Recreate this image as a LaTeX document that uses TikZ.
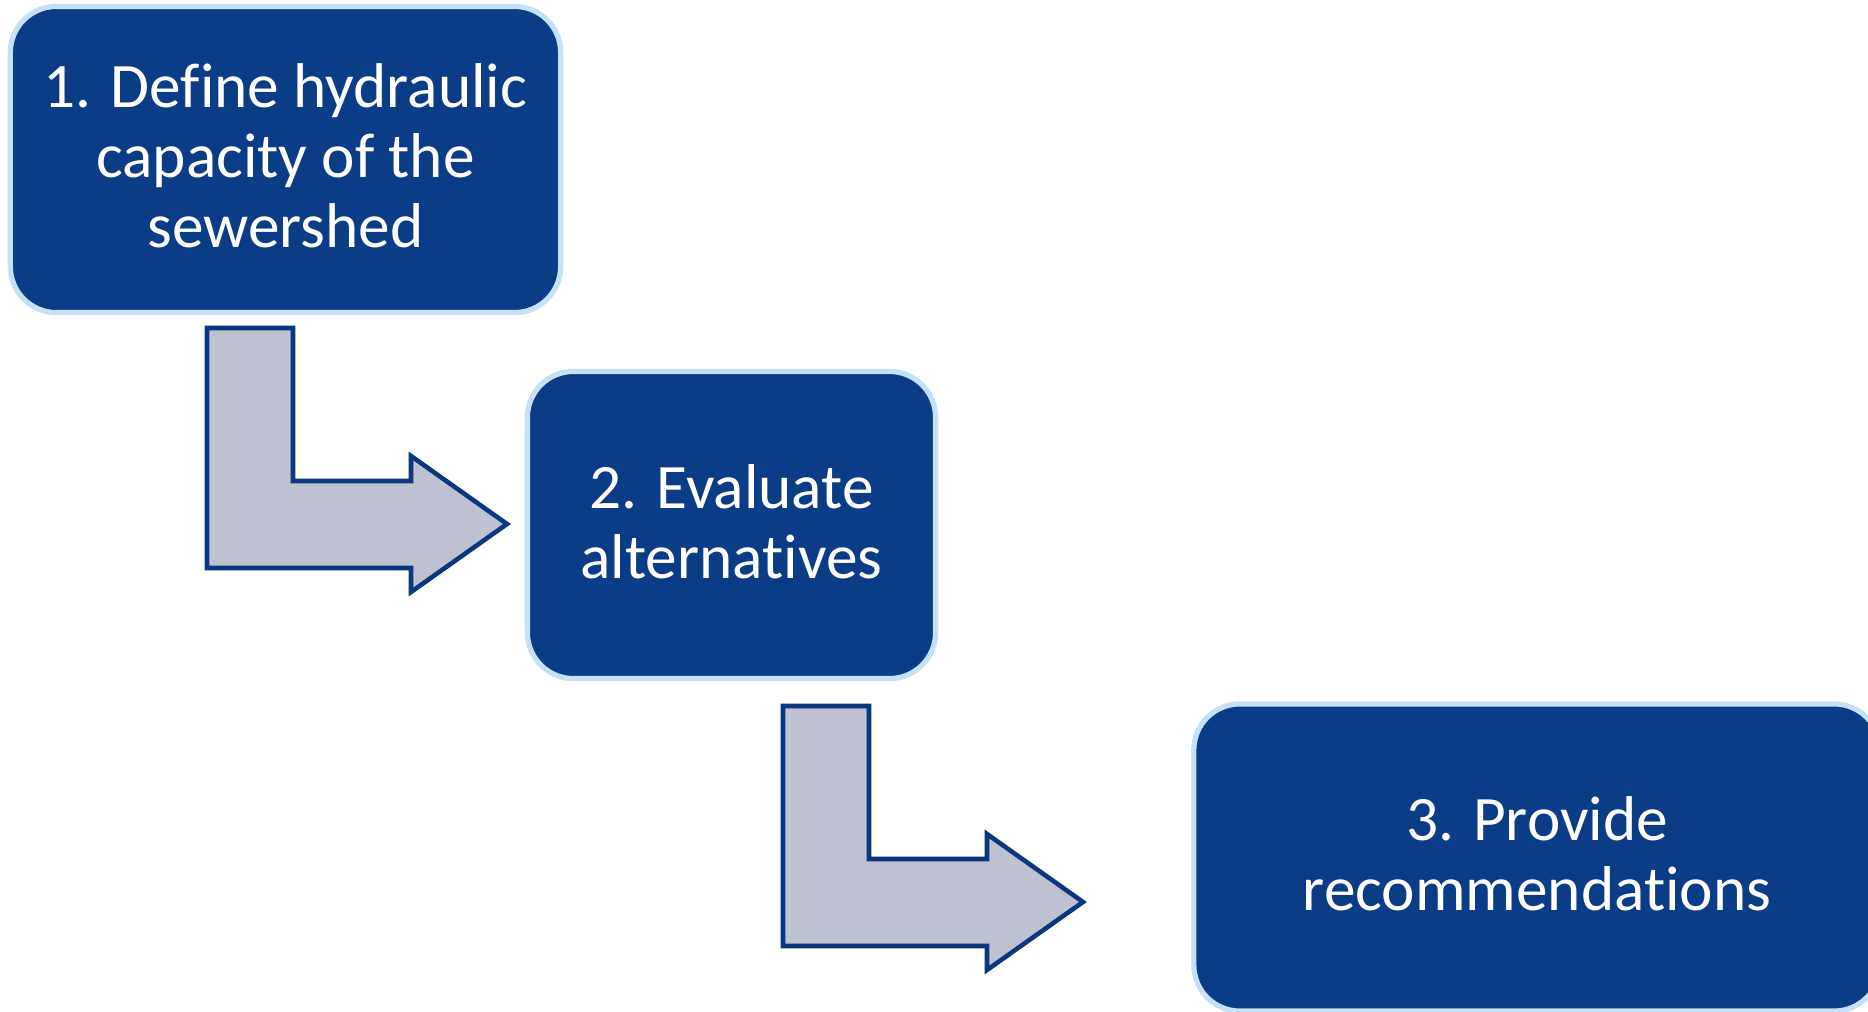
\documentclass[tikz,border=0pt]{standalone}
\usepackage{fontspec}
\setmainfont{Carlito}[Ligatures={NoCommon,NoRare,NoContextual}]
\begin{document}
\begin{tikzpicture}[x=0.01cm,y=-0.01cm,
  stepbox/.style={draw=boxedge, fill=boxfill, line width=1.5pt, rounded corners=0.46cm,
    text=white, align=center, font=\fontsize{18}{19.9}\selectfont, inner sep=0pt,
    text depth=2.2pt},
  bentarrow/.style={draw=arrowedge, fill=arrowfill, line width=1.3pt, line join=miter}]
\definecolor{boxfill}{RGB}{11,61,135}
\definecolor{boxedge}{RGB}{197,225,246}
\definecolor{arrowfill}{RGB}{190,193,208}
\definecolor{arrowedge}{RGB}{10,55,125}
\useasboundingbox (0,0) rectangle (1868,1012);
\clip (0,0) rectangle (1868,1012);
\node[stepbox, minimum width=5.5cm, minimum height=3.06cm] (s1) at (285.5,159.5)
  {1. Define hydraulic\\capacity of the\\sewershed};
\node[stepbox, minimum width=4.08cm, minimum height=3.07cm] (s2) at (731.5,525)
  {2. Evaluate\\alternatives};
\node[stepbox, minimum width=6.86cm, minimum height=3.07cm] (s3) at (1537,857.5)
  {3. Provide\\recommendations};
\coordinate (a1) at (207,328);
\coordinate (a2) at (783,706);
\foreach \c in {a1,a2}{
  \draw[bentarrow, shift={(\c)}] (0,0) -- (86,0) -- (86,153) -- (204,153) -- (204,128)
    -- (300,196) -- (204,264) -- (204,240) -- (0,240) -- cycle;
}
\end{tikzpicture}
\end{document}
